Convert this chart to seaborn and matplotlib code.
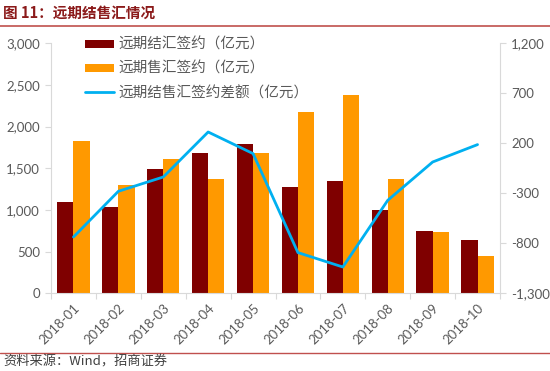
import numpy as np
import pandas as pd
import matplotlib
matplotlib.use("Agg")
import matplotlib.pyplot as plt
from matplotlib.ticker import FuncFormatter, FixedLocator
from matplotlib.lines import Line2D
from matplotlib.patches import Patch
import seaborn as sns

months = ["2018-01", "2018-02", "2018-03", "2018-04", "2018-05",
          "2018-06", "2018-07", "2018-08", "2018-09", "2018-10"]
settle = [1100, 1030, 1490, 1685, 1790, 1280, 1350, 1000, 750, 637]
sale = [1830, 1305, 1617, 1368, 1688, 2172, 2380, 1368, 732, 448]
diff = [-737, -280, -137, 313, 97, -893, -1037, -370, 13, 187]

name_settle = "远期结汇签约（亿元）"
name_sale = "远期售汇签约（亿元）"
name_diff = "远期结售汇签约差额（亿元）"

left_ticks = [0, 500, 1000, 1500, 2000, 2500, 3000]
right_ticks = [-1300, -800, -300, 200, 700, 1200]

sns.set_theme(style="white")
plt.rcParams['font.family'] = ['Lato', 'Noto Sans CJK SC', 'DejaVu Sans']

df = pd.DataFrame({
    "month": months * 2,
    "value": settle + sale,
    "series": [name_settle] * len(months) + [name_sale] * len(months),
})

c_red = "#7F0000"
c_orange = "#FF9900"
c_blue = "#00B0F0"
grid_gray = "#D9D9D9"
text_gray = "#595959"

fig = plt.figure(figsize=(5.5, 3.71), dpi=100)
ax = fig.add_axes([51 / 550, 1 - 293.3 / 371, (500 - 51) / 550, (293.3 - 43.3) / 371])

sns.barplot(data=df, x="month", y="value", hue="series", order=months,
            hue_order=[name_settle, name_sale],
            palette=[c_red, c_orange], width=0.72, gap=0.0,
            saturation=1, ax=ax, legend=False, edgecolor="none")

ax.set_xlim(-0.5, len(months) - 0.5)
ax.set_ylim(0, 3000)
ax.yaxis.set_major_locator(FixedLocator(left_ticks))
ax.yaxis.set_major_formatter(FuncFormatter(lambda v, p: f"{v:,.0f}"))
ax.set_xlabel("")
ax.set_ylabel("")

ax2 = ax.twinx()
sns.lineplot(x=np.arange(len(months)), y=diff, ax=ax2, color=c_blue,
             linewidth=2.0, legend=False)
ax2.set_ylim(-1300, 1200)
ax2.yaxis.set_major_locator(FixedLocator(right_ticks))
ax2.yaxis.set_major_formatter(FuncFormatter(lambda v, p: f"{v:,.0f}"))
ax2.set_ylabel("")

for a in (ax, ax2):
    for s in a.spines.values():
        s.set_color(grid_gray)
        s.set_linewidth(0.8)
    a.spines["top"].set_visible(False)

ax.spines["right"].set_visible(False)
ax2.spines["left"].set_visible(False)
ax2.spines["bottom"].set_visible(False)

ax.tick_params(axis="y", which="major", direction="out", length=4, width=0.8,
               color=grid_gray, labelcolor=text_gray, labelsize=9.5, pad=4, left=True)
ax2.tick_params(axis="y", which="major", direction="out", length=4, width=0.8,
                color=grid_gray, labelcolor=text_gray, labelsize=9.5, pad=4, right=True)

ax.set_xticks(np.arange(len(months)))
ax.set_xticklabels(months, rotation=45, ha="right", rotation_mode="anchor")
ax.tick_params(axis="x", which="major", length=0, labelcolor=text_gray,
               labelsize=9.5, pad=6)
ax.set_xticks(np.arange(len(months) + 1) - 0.5, minor=True)
ax.tick_params(axis="x", which="minor", direction="out", length=4, width=0.8,
               color=grid_gray, bottom=True)

handles = [Patch(facecolor=c_red, edgecolor="none", label=name_settle),
           Patch(facecolor=c_orange, edgecolor="none", label=name_sale),
           Line2D([0], [0], color=c_blue, linewidth=2.0, label=name_diff)]
leg = ax.legend(handles=handles, loc="upper left",
                bbox_to_anchor=(28 / 449, 1.045), frameon=False,
                prop={"family": ["Noto Sans CJK SC"], "size": 10.5},
                handlelength=2.0, handleheight=0.5, handletextpad=0.3,
                labelspacing=0.68, borderaxespad=0)
for t in leg.get_texts():
    t.set_color(text_gray)

fig.text(3 / 550, 1 - 13 / 371, "图 11：远期结售汇情况", ha="left", va="center",
         fontsize=10.5, fontweight="bold", color="#8B1A1A",
         family=["Noto Sans CJK SC"])
fig.add_artist(Line2D([0, 1], [1 - 25.5 / 371, 1 - 25.5 / 371],
                      transform=fig.transFigure, color="#C0504D", linewidth=1.2))
fig.add_artist(Line2D([0, 1], [1 - 352.5 / 371, 1 - 352.5 / 371],
                      transform=fig.transFigure, color="#C0504D", linewidth=1.0))
fig.text(3 / 550, 1 - 362 / 371, "资料来源：Wind，招商证券", ha="left", va="center",
         fontsize=9.5, color="#404040", family=["Noto Sans CJK SC", "Lato"])

fig.savefig("out.png", dpi=100)
